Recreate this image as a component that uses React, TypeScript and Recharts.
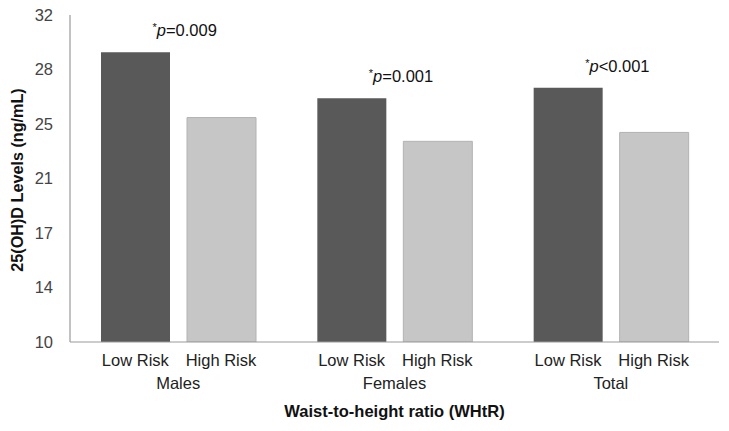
import React from "react";
import { BarChart, Bar, XAxis, YAxis, LabelList, Label } from "recharts";

const groups = ["Males", "Females", "Total"];
const lowRisk = [29.5, 26.4, 27.1];
const highRisk = [25.1, 23.5, 24.1];
const pValues = [
  { op: "=", val: "0.009" },
  { op: "=", val: "0.001" },
  { op: "<", val: "0.001" },
];
const subLabels = ["Low Risk", "High Risk"];
const yTicks = [10, 13.67, 17.33, 21, 24.67, 28.33, 32];
const yTickLabels = ["10", "14", "17", "21", "25", "28", "32"];
const xTitle = "Waist-to-height ratio (WHtR)";
const yTitle = "25(OH)D Levels (ng/mL)";

const data = groups.map((g, i) => ({ group: g, low: lowRisk[i], high: highRisk[i] }));

const FONT = "'Liberation Sans', Arial, Helvetica, sans-serif";
const FS = 16.5;
const BAR_GAP = 17;
const CAT_GAP = 31;

const XTick = (props: any) => {
  const { x, y, payload, width } = props;
  const band = 649 / 3;
  const barW = (band - 2 * CAT_GAP - BAR_GAP) / 2;
  const off = (barW + BAR_GAP) / 2;
  return (
    <g fontFamily={FONT} fontSize={FS} fill="#222">
      <text x={x - off} y={y + 23.5} textAnchor="middle" fill="#222">{subLabels[0]}</text>
      <text x={x + off} y={y + 23.5} textAnchor="middle" fill="#222">{subLabels[1]}</text>
      <text x={x} y={y + 47.3} textAnchor="middle" fill="#222">{payload.value}</text>
    </g>
  );
};

const PLabel = (props: any) => {
  const { x, y, width, index } = props;
  const center = x + width + BAR_GAP / 2;
  const p = pValues[index];
  return (
    <text x={center - 26} y={y - 16} fontFamily={FONT} fontSize={FS} fill="#111">
      <tspan fontSize={11} dy={-5}>*</tspan>
      <tspan fontStyle="italic" dy={5}>p</tspan>
      <tspan>{p.op + p.val}</tspan>
    </text>
  );
};

export default function App() {
  return (
    <div style={{ position: "absolute", left: 0, top: 0, background: "#fff" }}>
      <BarChart
        width={729}
        height={431}
        data={data}
        margin={{ top: 15, right: 10, left: 0, bottom: 0 }}
        barGap={BAR_GAP}
        barCategoryGap={CAT_GAP}
      >
        <XAxis
          dataKey="group"
          height={89}
          tickLine={false}
          tickSize={0}
          tickMargin={0}
          axisLine={{ stroke: "#9a9a9a", strokeWidth: 1.2 }}
          tick={<XTick />}
          interval={0}
        >
          <Label
            content={(p: any) => {
              const vb = p.viewBox;
              return (
                <text
                  x={vb.x + vb.width / 2}
                  y={vb.y + 75}
                  textAnchor="middle"
                  fontFamily={FONT}
                  fontSize={16.5}
                  fontWeight="bold"
                  fill="#111"
                >
                  {xTitle}
                </text>
              );
            }}
          />
        </XAxis>
        <YAxis
          width={70}
          domain={[10, 32]}
          ticks={yTicks}
          allowDataOverflow
          tickLine={false}
          tickSize={0}
          tickMargin={17}
          axisLine={{ stroke: "#9a9a9a", strokeWidth: 1.2 }}
          tick={{ fontFamily: FONT, fontSize: FS, fill: "#444" }}
          tickFormatter={(v: number) => yTickLabels[yTicks.indexOf(v)]}
        >
          <Label
            content={() => (
              <text
                x={22.5}
                y={180}
                transform="rotate(-90, 22.5, 180)"
                textAnchor="middle"
                fontFamily={FONT}
                fontSize={16.2}
                fontWeight="bold"
                fill="#111"
              >
                {yTitle}
              </text>
            )}
          />
        </YAxis>
        <Bar dataKey="low" fill="#595959" isAnimationActive={false}>
          <LabelList dataKey="low" content={<PLabel />} />
        </Bar>
        <Bar dataKey="high" fill="#c6c6c6" stroke="#b2b2b2" strokeWidth={1} isAnimationActive={false} />
      </BarChart>
    </div>
  );
}
